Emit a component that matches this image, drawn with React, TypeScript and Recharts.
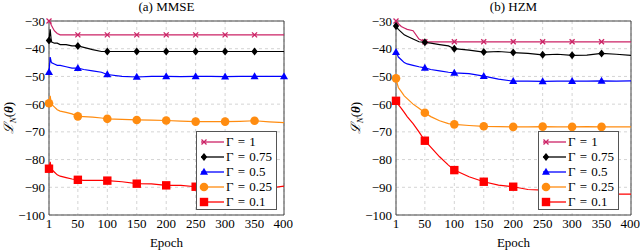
import React from 'react';
import { LineChart, Line, XAxis, YAxis, CartesianGrid, ReferenceArea } from 'recharts';

const epochs = [1, 3, 5, 10, 15, 20, 30, 40, 50, 60, 75, 90, 100, 125, 150, 175, 200, 225, 250, 275, 300, 325, 350, 375, 400];
const markerEpochs = [1, 50, 100, 150, 200, 250, 300, 350];
const xTicks = [1, 50, 100, 150, 200, 250, 300, 350, 400];
const yTicks = [-100, -90, -80, -70, -60, -50, -40, -30];
const gammaLabels = ['Γ = 1', 'Γ = 0.75', 'Γ = 0.5', 'Γ = 0.25', 'Γ = 0.1'];

// (a) MMSE
const mmseG1 = [-30, -30.5, -31.5, -33.5, -34.5, -35, -35, -35, -35, -35, -35, -35, -35, -35, -35, -35, -35, -35, -35, -35, -35, -35, -35, -35, -35];
const mmseG075 = [-37, -33, -37.5, -38, -38, -38.5, -38.5, -39, -39, -39.5, -40.3, -41, -41, -41, -41, -41, -41, -41, -41, -41, -41, -41, -41, -41, -41];
const mmseG05 = [-48.5, -43, -45, -45.5, -46, -46, -46.5, -47, -47, -47.5, -48, -48.5, -49.3, -50, -50.2, -50, -50, -50.1, -50, -50, -50.1, -50, -50, -50, -50];
const mmseG025 = [-59.7, -57, -60, -61, -62, -62.5, -63, -63.5, -64.4, -64.5, -64.7, -65, -65.3, -65.5, -65.7, -65.8, -65.9, -66.1, -66.3, -66.3, -66.3, -66.2, -66, -66.4, -66.7];
const mmseG01 = [-83.3, -80.8, -83.5, -84.5, -85.5, -86, -86.5, -87, -87.3, -87.5, -87.5, -87.5, -87.6, -88, -88.7, -88.8, -89.3, -89.3, -89.8, -90, -90, -90, -90, -90.3, -89.6];

// (b) HZM
const hzmG1 = [-30, -30.5, -31, -32, -32.5, -33, -33.5, -36.5, -37.5, -37.5, -37.5, -37.5, -37.5, -37.5, -37.5, -37.5, -37.5, -37.5, -37.5, -37.5, -37.5, -37.5, -37.5, -37.5, -37.5];
const hzmG075 = [-31.8, -32.5, -33, -34, -35, -35.5, -36.5, -37.5, -37.7, -38, -38.5, -39, -40, -40.5, -41.2, -41, -41.4, -41.7, -42.2, -42, -42.4, -42.3, -41.7, -42, -42.4];
const hzmG05 = [-41.3, -42, -43, -44, -45, -45.5, -46, -46.5, -46.9, -47.5, -48, -48.5, -48.7, -49, -49.9, -51, -51.7, -51.7, -51.8, -51.7, -51.7, -51.7, -51.6, -51.7, -51.6];
const hzmG025 = [-50.7, -52.5, -54, -55.5, -57, -58, -60, -61.5, -63.1, -64.5, -66, -67, -67.3, -67.7, -68, -68.1, -68.2, -68.2, -68.1, -68.2, -68.2, -68.1, -68.2, -68.2, -68.2];
const hzmG01 = [-58.8, -59.3, -60.2, -61.5, -63, -64.5, -67, -70, -73.2, -75.5, -79, -82, -83.8, -86.2, -88, -89.2, -89.8, -90.8, -91, -91.5, -91.8, -92, -92.3, -92.5, -92.5];

const colors = ['#cc2366', '#000000', '#0000ff', '#ff8c10', '#ff0000'];
const keys = ['g1', 'g075', 'g05', 'g025', 'g01'];
const serif = "'Liberation Serif', 'Times New Roman', Times, 'DejaVu Serif', serif";

const fmt = (v: number) => String(v).replace('-', '\u2212');

function Marker({ kind, cx, cy, color }: { kind: number; cx: number; cy: number; color: string }) {
  if (kind === 0) {
    const s = 2.5;
    return (
      <g stroke={color} strokeWidth={1.3}>
        <line x1={cx - s} y1={cy - s} x2={cx + s} y2={cy + s} />
        <line x1={cx - s} y1={cy + s} x2={cx + s} y2={cy - s} />
      </g>
    );
  }
  if (kind === 1) {
    return <polygon points={`${cx},${cy - 4} ${cx + 3.2},${cy} ${cx},${cy + 4} ${cx - 3.2},${cy}`} fill={color} />;
  }
  if (kind === 2) {
    return <polygon points={`${cx},${cy - 4.2} ${cx + 4},${cy + 2.8} ${cx - 4},${cy + 2.8}`} fill={color} />;
  }
  if (kind === 3) {
    return <circle cx={cx} cy={cy} r={4.3} fill={color} />;
  }
  return <rect x={cx - 4.2} y={cy - 4.2} width={8.4} height={8.4} fill={color} />;
}

function makeDot(kind: number, extra: number[]) {
  return (props: any) => {
    const { cx, cy, payload, index } = props;
    const show = markerEpochs.includes(payload.epoch) || extra.includes(payload.epoch);
    if (!show) return <g key={`d${kind}-${index}`} />;
    return (
      <g key={`d${kind}-${index}`}>
        <Marker kind={kind} cx={cx} cy={cy} color={colors[kind]} />
      </g>
    );
  };
}

function YLabel({ x, y }: { x: number; y: number }) {
  return (
    <text x={x} y={y} transform={`rotate(-90 ${x} ${y})`} textAnchor="middle" style={{ fontFamily: serif }} fontSize={13} fill="#000">
      <tspan fontStyle="italic">ℒ</tspan>
      <tspan fontSize={9} dy={3} fontStyle="italic">N</tspan>
      <tspan dy={-3}>(</tspan>
      <tspan fontWeight="bold" fontStyle="italic">θ</tspan>
      <tspan>)</tspan>
    </text>
  );
}

function LegendBox({ left }: { left: number }) {
  return (
    <div
      style={{
        position: 'absolute', left, top: 131, width: 81, height: 79, background: '#fff',
        border: '1px solid #555', boxSizing: 'border-box', fontFamily: serif, fontSize: 13,
        paddingTop: 2,
      }}
    >
      {gammaLabels.map((lab, i) => (
        <div key={lab} style={{ height: 15, display: 'flex', alignItems: 'center' }}>
          <svg width={29} height={12} style={{ flex: 'none' }}>
            <line x1={4} y1={6} x2={27} y2={6} stroke={colors[i]} strokeWidth={1.3} />
            <Marker kind={i} cx={7} cy={6} color={colors[i]} />
          </svg>
          <span style={{ whiteSpace: 'pre', wordSpacing: 1 }}>{lab}</span>
        </div>
      ))}
    </div>
  );
}

function Panel({ left, width, marginRight, title, series, legendLeft, extraMarks }: {
  left: number; width: number; marginRight: number; title: string; series: number[][]; legendLeft: number; extraMarks: number[][];
}) {
  const data = epochs.map((e, i) => {
    const row: Record<string, number> = { epoch: e };
    keys.forEach((k, j) => { row[k] = series[j][i]; });
    return row;
  });
  const plotLeft = 49;
  const plotRight = width - marginRight;
  const midX = (plotLeft + plotRight) / 2;
  const tickStyle = { fontFamily: serif, fontSize: 13, fill: '#000' };
  return (
    <div style={{ position: 'absolute', left, top: 0, width, height: 250, fontFamily: serif }}>
      <div style={{ position: 'absolute', left: plotLeft, width: plotRight - plotLeft, top: -1, textAlign: 'center', fontFamily: serif, fontSize: 13, lineHeight: '16px' }}>
        {title}
      </div>
      <LineChart width={width} height={250} data={data} margin={{ top: 21, right: marginRight, bottom: 5, left: 9 }} style={{ fontFamily: serif }}>
        <CartesianGrid stroke="#d4d4d4" strokeDasharray="3 3" />
        <XAxis
          dataKey="epoch" type="number" domain={[1, 400]} ticks={xTicks} height={30}
          axisLine={false} tickLine={false} tickSize={0} tickMargin={4}
          tick={tickStyle}
          label={{
            content: () => (
              <text x={midX} y={247} textAnchor="middle" style={{ fontFamily: serif }} fontSize={13} fill="#000">Epoch</text>
            ),
          }}
        />
        <YAxis
          domain={[-100, -30]} ticks={yTicks} width={40} tickFormatter={fmt}
          axisLine={false} tickLine={false} tickSize={0} tickMargin={4}
          tick={tickStyle}
          label={{ content: (p: any) => <YLabel x={p.viewBox.x + 4} y={p.viewBox.y + p.viewBox.height / 2} /> }}
        />
        {keys.map((k, i) => (
          <Line
            key={k} dataKey={k} stroke={colors[i]} strokeWidth={1.2} dot={makeDot(i, extraMarks[i])}
            activeDot={false} isAnimationActive={false} type="linear"
          />
        ))}
        <ReferenceArea x1={1} x2={400} y1={-100} y2={-30} fill="none" stroke="#444" strokeWidth={1} ifOverflow="visible" />
      </LineChart>
      <LegendBox left={legendLeft - left} />
    </div>
  );
}

export default function App() {
  return (
    <div style={{ position: 'absolute', left: 0, top: 0, width: 640, height: 250, background: '#fff', overflow: 'hidden', fontFamily: serif }}>
      <Panel left={0} width={293} marginRight={9} title="(a) MMSE" legendLeft={196}
        series={[mmseG1, mmseG075, mmseG05, mmseG025, mmseG01]} extraMarks={[[], [], [400], [], []]} />
      <Panel left={347} width={293} marginRight={9} title="(b) HZM" legendLeft={538}
        series={[hzmG1, hzmG075, hzmG05, hzmG025, hzmG01]} extraMarks={[[], [], [], [], []]} />
    </div>
  );
}
